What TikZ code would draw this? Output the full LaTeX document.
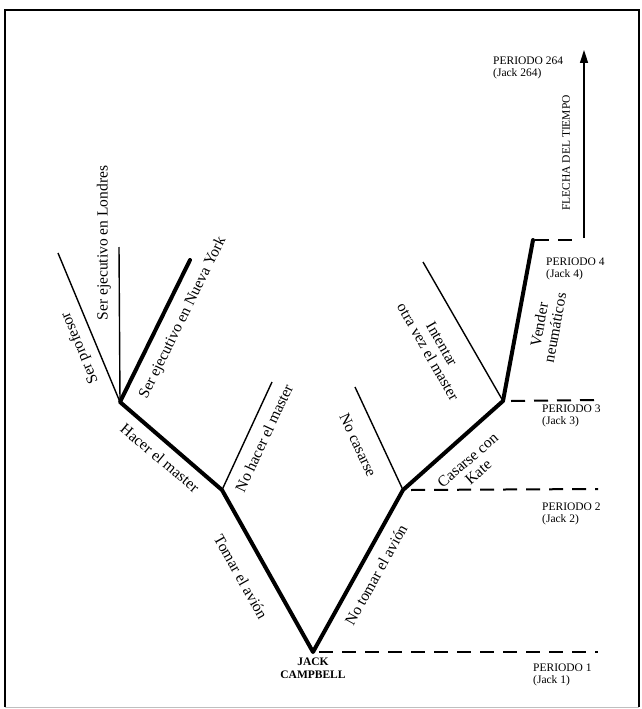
\documentclass[tikz,border=0pt]{standalone}
\usepackage{fontspec}
\setmainfont{Liberation Serif}
\usetikzlibrary{arrows.meta}
\begin{document}
\begin{tikzpicture}[x=1pt,y=-1pt,
  thickedge/.style={line width=4pt,line cap=round,line join=round},
  thinedge/.style={line width=1.4pt},
  perline/.style={line width=2pt,dash pattern=on 14pt off 9pt},
  lab/.style={font=\fontsize{15.5}{16}\selectfont,inner sep=0pt,align=center},
  per/.style={font=\fontsize{11.5}{12}\selectfont,inner sep=0pt,align=left,anchor=north west},
  frame/.style={line width=1.2pt}]
\useasboundingbox (0,0) rectangle (642,709);
% frame
\draw[frame] (5,707) -- (5,10) -- (639,10) -- (639,707);
\draw[line width=0.6pt,black!25] (5,707) -- (639,707);
% nodes (branch points)
\coordinate (root) at (313,652);
\coordinate (A) at (222,490);
\coordinate (B) at (120,402);
\coordinate (prof) at (58,253);
\coordinate (lon) at (119,247);
\coordinate (ny) at (190,260);
\coordinate (nohm) at (272,382);
\coordinate (C) at (403,490);
\coordinate (nocas) at (355,387);
\coordinate (D) at (503,401);
\coordinate (int) at (423,262);
\coordinate (E) at (533,240);
\coordinate (d1) at (598,652);
\coordinate (d2) at (598,489);
\coordinate (d3) at (598,400);
\coordinate (e4) at (579,240);
\coordinate (t0) at (584,238);
\coordinate (t1) at (584,50);
% thin branches
\draw[thinedge] (B) -- (prof);
\draw[thinedge] (B) -- (lon);
\draw[thinedge] (A) -- (nohm);
\draw[thinedge] (C) -- (nocas);
\draw[thinedge] (D) -- (int);
% thick path
\draw[thickedge] (ny) -- (B) -- (A) -- (root) -- (C) -- (D) -- (E);
% period dashed lines
\draw[perline] ([xshift=6pt]root) -- (d1);
\draw[perline] ([xshift=8pt]C) -- (d2);
\draw[perline] ([xshift=8pt]D) -- (d3);
\draw[perline] ([xshift=2pt]E) -- (e4);
\draw[line width=1.5pt,-{Triangle[length=13pt,width=8pt]}] (t0) -- (t1);
% branch labels
\node[lab,rotate=-60.7] (l1) at (241,577) {Tomar el avión};
\node[lab,rotate=-40] (l2) at (160,458) {Hacer el master};
\node[lab,rotate=65] (l3) at (264,438) {No hacer el master};
\node[lab,rotate=112.6] (l4) at (80,348) {Ser profesor};
\node[lab,rotate=90] (l5) at (104,243) {Ser ejecutivo en Londres};
\node[lab,rotate=63.8] (l6) at (183,318) {Ser ejecutivo en Nueva York};
\node[lab,rotate=61] (l7) at (376,575) {No tomar el avión};
\node[lab,rotate=-65] (l8) at (358,445) {No casarse};
\node[lab,rotate=41] (l9) at (473,466) {Casarse con\\Kate};
\node[lab,rotate=-60.4] (l10) at (435,348) {Intentar\\otra vez el master};
\node[lab,rotate=79.6] (l11) at (547,326) {Vender\\neumáticos};
% root label
\node[font=\fontsize{11.5}{12.5}\selectfont\bfseries,inner sep=0pt,align=center,anchor=north] (jc) at (313,658) {JACK\\CAMPBELL};
% period labels
\node[per] (p1) at (533,664) {PERIODO 1\\(Jack 1)};
\node[per] (p2) at (542,503) {PERIODO 2\\(Jack 2)};
\node[per] (p3) at (542,405) {PERIODO 3\\(Jack 3)};
\node[per] (p4) at (546,258) {PERIODO 4\\(Jack 4)};
\node[per] (p264) at (493,57) {PERIODO 264\\(Jack 264)};
\node[font=\fontsize{11.5}{12}\selectfont,inner sep=0pt,rotate=90] (ft) at (566,153) {FLECHA DEL TIEMPO};
\end{tikzpicture}
\end{document}
